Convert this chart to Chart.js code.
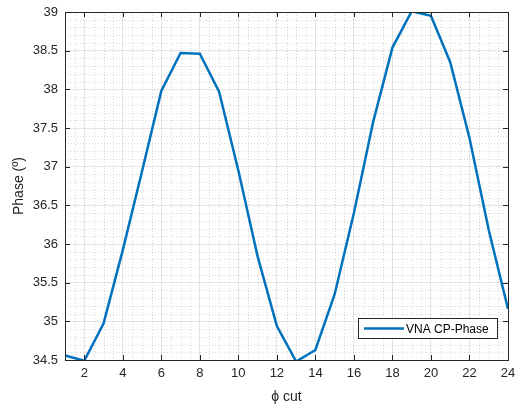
<!DOCTYPE html>
<html>
<head>
<meta charset="utf-8">
<script src="https://cdn.jsdelivr.net/npm/chart.js@4/dist/chart.umd.min.js"></script>
<style>
  html, body { margin: 0; padding: 0; background: #fff; }
  #wrap { width: 517px; height: 406px; }
</style>
</head>
<body>
<div id="wrap"><canvas id="main-chart" width="517" height="406"></canvas></div>
<script>
const phiCuts = [1, 2, 3, 4, 5, 6, 7, 8, 9, 10, 11, 12, 13, 14, 15, 16, 17, 18, 19, 20, 21, 22, 23, 24];
const phaseValues = [34.56, 34.49, 34.97, 35.92, 36.94, 37.98, 38.47, 38.46, 37.97, 36.95, 35.84, 34.94,
    34.48, 34.63, 35.35, 36.40, 37.58, 38.54, 39.01, 38.95, 38.35, 37.37, 36.18, 35.16];
const xTicks = [2, 4, 6, 8, 10, 12, 14, 16, 18, 20, 22, 24];
const yTicks = [34.5, 35, 35.5, 36, 36.5, 37, 37.5, 38, 38.5, 39];

const textColor = "#262626";
const font = { family: "Liberation Sans, Arial, Helvetica", size: 13 };

// minor grid, inward ticks, box and legend like MATLAB
const matlabAxes = {
    id: "matlabAxes",
    beforeDatasetsDraw(chart) {
        const { ctx, chartArea: a, scales } = chart;
        ctx.save();
        ctx.strokeStyle = "rgba(170,170,170,0.45)";
        ctx.lineWidth = 1;
        ctx.setLineDash([1, 2]);
        for (let v = 1; v <= 24; v += 0.5) {
            if (v % 2 === 0) continue;
            const px = Math.round(scales.x.getPixelForValue(v)) + 0.5;
            ctx.beginPath(); ctx.moveTo(px, a.top); ctx.lineTo(px, a.bottom); ctx.stroke();
        }
        for (let i = 345; i <= 390; i++) {
            if (i % 5 === 0) continue;
            const py = Math.round(scales.y.getPixelForValue(i / 10)) + 0.5;
            ctx.beginPath(); ctx.moveTo(a.left, py); ctx.lineTo(a.right, py); ctx.stroke();
        }
        ctx.restore();
    },
    afterDraw(chart) {
        const { ctx, chartArea: a, scales } = chart;
        ctx.save();
        ctx.strokeStyle = textColor;
        ctx.lineWidth = 1;
        ctx.strokeRect(Math.round(a.left) + 0.5, Math.round(a.top) + 0.5,
            Math.round(a.right - a.left), Math.round(a.bottom - a.top));
        const t = 5;
        xTicks.forEach(v => {
            const px = Math.round(scales.x.getPixelForValue(v)) + 0.5;
            ctx.beginPath();
            ctx.moveTo(px, a.bottom); ctx.lineTo(px, a.bottom - t);
            ctx.moveTo(px, a.top); ctx.lineTo(px, a.top + t);
            ctx.stroke();
        });
        yTicks.forEach(v => {
            const py = Math.round(scales.y.getPixelForValue(v)) + 0.5;
            ctx.beginPath();
            ctx.moveTo(a.left, py); ctx.lineTo(a.left + t, py);
            ctx.moveTo(a.right, py); ctx.lineTo(a.right - t, py);
            ctx.stroke();
        });

        // legend box, bottom right inside the axes
        const ds = chart.data.datasets[0];
        const bx = 358.5, by = 318.5, bw = 139, bh = 20;
        ctx.fillStyle = "#fff";
        ctx.fillRect(bx, by, bw, bh);
        ctx.strokeStyle = textColor;
        ctx.strokeRect(bx, by, bw, bh);
        ctx.strokeStyle = ds.borderColor;
        ctx.lineWidth = ds.borderWidth;
        ctx.beginPath(); ctx.moveTo(364, by + bh / 2); ctx.lineTo(404, by + bh / 2); ctx.stroke();
        ctx.fillStyle = "#000";
        ctx.font = "12px " + font.family;
        ctx.textBaseline = "middle";
        ctx.fillText(ds.label, 406, by + bh / 2 + 1);
        ctx.restore();
    }
};

const chart = new Chart(document.getElementById("main-chart"), {
    type: "line",
    data: {
        datasets: [
            {
                label: "VNA CP-Phase",
                data: phiCuts.map((x, i) => ({ x: x, y: phaseValues[i] })),
                borderColor: "#0072BD",
                borderWidth: 2.5,
                pointRadius: 0,
                tension: 0,
                fill: false,
            },
        ],
    },
    options: {
        responsive: false,
        animation: false,
        layout: { padding: { left: 11, top: 12, right: 9, bottom: 0 } },
        scales: {
            x: {
                type: "linear",
                min: 1,
                max: 24,
                afterBuildTicks: s => { s.ticks = xTicks.map(v => ({ value: v })); },
                afterFit: s => { s.height = 46; s.paddingRight = 0; s.paddingLeft = 0; },
                grid: { color: "#e4e4e4", drawTicks: false },
                border: { display: false },
                ticks: { color: textColor, font: font, padding: 6 },
                title: {
                    display: true,
                    text: "ϕ cut",
                    color: textColor,
                    font: { family: font.family, size: 14 },
                    padding: { top: 2, bottom: 0 },
                },
            },
            y: {
                min: 34.5,
                max: 39,
                afterBuildTicks: s => { s.ticks = yTicks.map(v => ({ value: v })); },
                afterFit: s => { s.width = 54; s.paddingTop = 0; s.paddingBottom = 0; },
                grid: { color: "#e4e4e4", drawTicks: false },
                border: { display: false },
                ticks: { color: textColor, font: font, padding: 7, callback: v => String(v) },
                title: {
                    display: true,
                    text: "Phase (º)",
                    color: textColor,
                    font: { family: font.family, size: 14 },
                    padding: { top: 0, bottom: 2 },
                },
            },
        },
        plugins: {
            legend: { display: false },
            tooltip: { enabled: false },
        },
    },
    plugins: [matlabAxes],
});
</script>
</body>
</html>
